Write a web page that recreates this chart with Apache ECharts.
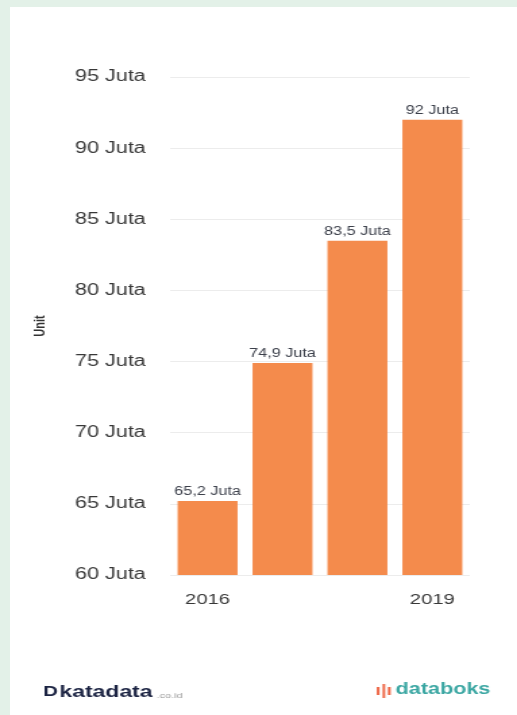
<!DOCTYPE html>
<html>
<head>
<meta charset="utf-8">
<script src="https://cdn.jsdelivr.net/npm/echarts@6/dist/echarts.min.js"></script>
<style>
html,body{margin:0;padding:0;width:517px;height:715px;background:#e3f1e8;overflow:hidden;}
#card{position:absolute;left:10px;top:7px;width:507px;height:708px;background:#ffffff;}
#chart{position:absolute;left:0;top:0;width:383px;height:715px;transform:scaleX(1.35);transform-origin:0 0;}
</style>
</head>
<body>
<div id="card"></div>
<div id="chart"></div>
<script>
var categories = ['2016', '2017', '2018', '2019'];
var shownYearLabels = ['2016', '2019'];
var salesValues = [65.2, 74.9, 83.5, 92];
var yMin = 60, yMax = 95, yStep = 5;
var yUnitSuffix = ' Juta';
var yAxisName = 'Unit';

function fmtId(v) { return String(v).replace('.', ',') + yUnitSuffix; }

var FONT = '"Liberation Sans", Arial, sans-serif';
var chart = echarts.init(document.getElementById('chart'), null, {renderer: 'canvas'});
chart.setOption({
  backgroundColor: 'transparent',
  animation: false,
  grid: {left: 126, right: 35, top: 77, bottom: 140},
  xAxis: {
    type: 'category',
    data: categories,
    axisLine: {show: false},
    axisTick: {show: false},
    axisLabel: {
      interval: 0,
      margin: 17,
      fontSize: 15,
      color: '#383838',
      fontFamily: FONT,
      formatter: function (v) { return shownYearLabels.indexOf(v) >= 0 ? v : ''; }
    }
  },
  yAxis: {
    type: 'value',
    min: yMin, max: yMax, interval: yStep,
    name: yAxisName,
    nameLocation: 'middle',
    nameGap: 91,
    nameRotate: 90,
    nameTextStyle: {fontSize: 11, fontWeight: 'bold', color: '#333333', fontFamily: FONT},
    axisLine: {show: false},
    axisTick: {show: false},
    splitLine: {lineStyle: {color: '#ececec', width: 1}},
    axisLabel: {
      margin: 18,
      fontSize: 16,
      color: '#383838',
      fontFamily: FONT,
      formatter: function (v) { return v + yUnitSuffix; }
    }
  },
  series: [{
    type: 'bar',
    data: salesValues,
    barCategoryGap: '20%',
    itemStyle: {color: '#f48b4c'},
    label: {
      show: true,
      position: 'top',
      distance: 3,
      fontSize: 12,
      color: '#3b3f4a',
      fontFamily: FONT,
      formatter: function (p) { return fmtId(p.value); }
    }
  }],
  graphic: [
    {type: 'text', left: 32, top: 684, style: {text: 'D', font: 'bold 15px ' + FONT, fill: '#1b2342'}},
    {type: 'text', left: 44, top: 684, style: {text: 'katadata', font: 'bold 17px ' + FONT, fill: '#1b2342'}},
    {type: 'text', left: 116, top: 692, style: {text: '.co.id', font: '8px ' + FONT, fill: '#9a9a9a'}},
    {type: 'text', left: 278, top: 683, style: {text: '\u0131|\u0131', font: 'bold 15px ' + FONT, fill: '#ee6a4a'}},
    {type: 'text', left: 293, top: 682, style: {text: 'databoks', font: 'bold 16px ' + FONT, fill: '#3aa6a2'}}
  ]
});
</script>
</body>
</html>
